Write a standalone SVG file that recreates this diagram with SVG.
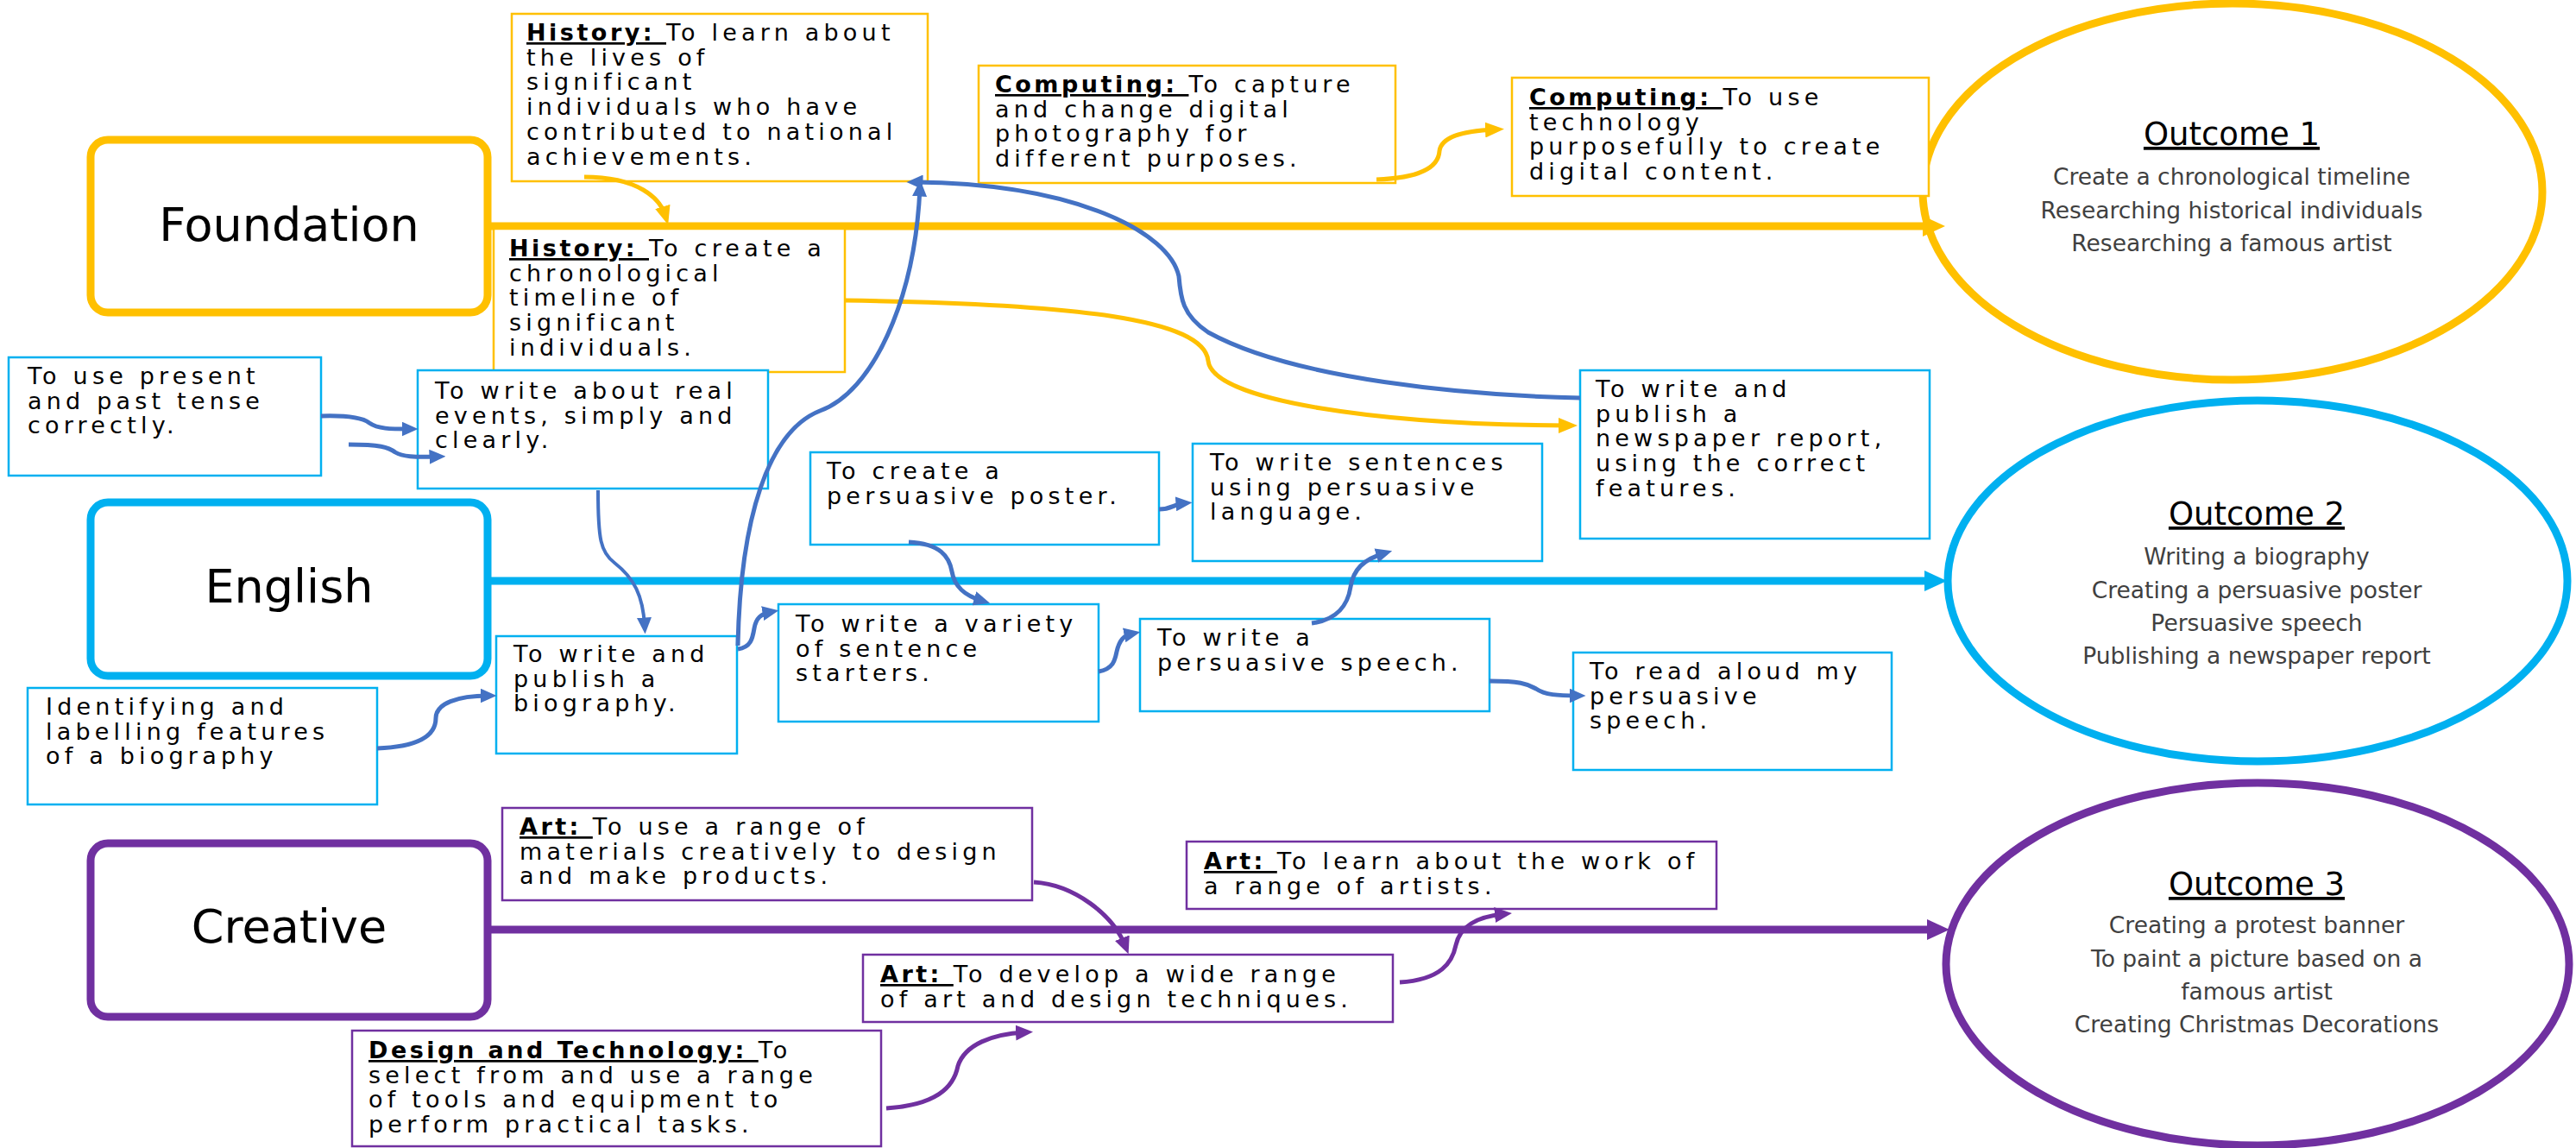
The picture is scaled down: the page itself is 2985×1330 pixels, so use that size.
<svg xmlns="http://www.w3.org/2000/svg" width="2985" height="1330" viewBox="0 0 2985 1330">
<style>
.box{fill:#fff;stroke-width:2.5}
.y{stroke:#FFC000}.b{stroke:#00B0F0}.p{stroke:#7030A0}
.t{font-family:"DejaVu Sans",sans-serif;font-size:27px;letter-spacing:5.2px;fill:#000}
.lb{font-weight:bold;text-decoration:underline;letter-spacing:3.5px}
.main{fill:#fff;stroke-width:9}
.big{font-family:"DejaVu Sans",sans-serif;font-size:54px;text-anchor:middle;fill:#000}
.oc{fill:#fff;stroke-width:9}
.ot{font-family:"DejaVu Sans",sans-serif;font-size:37px;text-anchor:middle;text-decoration:underline;fill:#000}
.ol{font-family:"DejaVu Sans",sans-serif;font-size:26.5px;text-anchor:middle;fill:#404040}
.cy{fill:none;stroke:#FFC000;stroke-width:5}
.cb{fill:none;stroke:#4472C4;stroke-width:5}
.cp{fill:none;stroke:#7030A0;stroke-width:5}
.ly{fill:none;stroke:#FFC000;stroke-width:9}
.lbl{fill:none;stroke:#00B0F0;stroke-width:9}
.lp{fill:none;stroke:#7030A0;stroke-width:9}
</style>
<defs>
<marker id="mY" viewBox="0 0 10 10" refX="5" refY="5" markerWidth="22" markerHeight="18" markerUnits="userSpaceOnUse" orient="auto" preserveAspectRatio="none"><path d="M0,0 L10,5 L0,10 z" fill="#FFC000"/></marker>
<marker id="mB" viewBox="0 0 10 10" refX="5" refY="5" markerWidth="19" markerHeight="17" markerUnits="userSpaceOnUse" orient="auto" preserveAspectRatio="none"><path d="M0,0 L10,5 L0,10 z" fill="#4472C4"/></marker>
<marker id="mP" viewBox="0 0 10 10" refX="5" refY="5" markerWidth="20" markerHeight="18" markerUnits="userSpaceOnUse" orient="auto" preserveAspectRatio="none"><path d="M0,0 L10,5 L0,10 z" fill="#7030A0"/></marker>
<marker id="MY" viewBox="0 0 10 10" refX="5" refY="5" markerWidth="26" markerHeight="24" markerUnits="userSpaceOnUse" orient="auto" preserveAspectRatio="none"><path d="M0,0 L10,5 L0,10 z" fill="#FFC000"/></marker>
<marker id="MB" viewBox="0 0 10 10" refX="5" refY="5" markerWidth="26" markerHeight="24" markerUnits="userSpaceOnUse" orient="auto" preserveAspectRatio="none"><path d="M0,0 L10,5 L0,10 z" fill="#00B0F0"/></marker>
<marker id="MP" viewBox="0 0 10 10" refX="5" refY="5" markerWidth="26" markerHeight="24" markerUnits="userSpaceOnUse" orient="auto" preserveAspectRatio="none"><path d="M0,0 L10,5 L0,10 z" fill="#7030A0"/></marker>
</defs>
<rect width="2985" height="1330" fill="#fff"/>

<g id="outcome1"><ellipse class="oc y" cx="2587" cy="222" rx="359" ry="218"/><text class="ot" x="2586" y="168">Outcome 1</text><text class="ol" x="2586" y="214">Create a chronological timeline</text><text class="ol" x="2586" y="253">Researching historical individuals</text><text class="ol" x="2586" y="291">Researching a famous artist</text></g>
<g id="outcome2"><ellipse class="oc b" cx="2616" cy="673" rx="359" ry="209"/><text class="ot" x="2615" y="608">Outcome 2</text><text class="ol" x="2615" y="654">Writing a biography</text><text class="ol" x="2615" y="693">Creating a persuasive poster</text><text class="ol" x="2615" y="731">Persuasive speech</text><text class="ol" x="2615" y="769">Publishing a newspaper report</text></g>
<g id="outcome3"><ellipse class="oc p" cx="2616" cy="1117" rx="361" ry="210"/><text class="ot" x="2615" y="1037">Outcome 3</text><text class="ol" x="2615" y="1081">Creating a protest banner</text><text class="ol" x="2615" y="1120">To paint a picture based on a</text><text class="ol" x="2615" y="1158">famous artist</text><text class="ol" x="2615" y="1196">Creating Christmas Decorations</text></g>

<g id="main-lines">
<path class="ly" d="M565 262 H2241" marker-end="url(#MY)"/>
<path class="lbl" d="M565 673 H2243" marker-end="url(#MB)"/>
<path class="lp" d="M565 1077 H2246" marker-end="url(#MP)"/>
</g>

<g id="foundation"><rect class="main y" x="105" y="162" width="460" height="200" rx="20"/><text class="big" x="335" y="279">Foundation</text></g>
<g id="english"><rect class="main b" x="105" y="582" width="460" height="201" rx="20"/><text class="big" x="335" y="698">English</text></g>
<g id="creative"><rect class="main p" x="105" y="977" width="460" height="201" rx="20"/><text class="big" x="335" y="1092">Creative</text></g>

<g id="history1"><rect class="box y" x="593" y="16" width="482" height="194"/><text class="t"><tspan x="610" y="47"><tspan class="lb">History: </tspan>To learn about</tspan><tspan x="610" dy="28.7">the lives of</tspan><tspan x="610" dy="28.7">significant</tspan><tspan x="610" dy="28.7">individuals who have</tspan><tspan x="610" dy="28.7">contributed to national</tspan><tspan x="610" dy="28.7">achievements.</tspan></text></g>
<g id="history2"><rect class="box y" x="572" y="265" width="407" height="166"/><text class="t"><tspan x="590" y="297"><tspan class="lb">History: </tspan>To create a</tspan><tspan x="590" dy="28.7">chronological</tspan><tspan x="590" dy="28.7">timeline of</tspan><tspan x="590" dy="28.7">significant</tspan><tspan x="590" dy="28.7">individuals.</tspan></text></g>
<g id="computing1"><rect class="box y" x="1134" y="76" width="483" height="136"/><text class="t"><tspan x="1153" y="107"><tspan class="lb">Computing: </tspan>To capture</tspan><tspan x="1153" dy="28.7">and change digital</tspan><tspan x="1153" dy="28.7">photography for</tspan><tspan x="1153" dy="28.7">different purposes.</tspan></text></g>
<g id="computing2"><rect class="box y" x="1752" y="90" width="483" height="137"/><text class="t"><tspan x="1772" y="122"><tspan class="lb">Computing: </tspan>To use</tspan><tspan x="1772" dy="28.7">technology</tspan><tspan x="1772" dy="28.7">purposefully to create</tspan><tspan x="1772" dy="28.7">digital content.</tspan></text></g>

<g id="tense"><rect class="box b" x="10" y="414" width="362" height="137"/><text class="t"><tspan x="32" y="445">To use present</tspan><tspan x="32" dy="28.7">and past tense</tspan><tspan x="32" dy="28.7">correctly.</tspan></text></g>
<g id="real-events"><rect class="box b" x="484" y="429" width="406" height="137"/><text class="t"><tspan x="504" y="462">To write about real</tspan><tspan x="504" dy="28.7">events, simply and</tspan><tspan x="504" dy="28.7">clearly.</tspan></text></g>
<g id="biography"><rect class="box b" x="575" y="737" width="279" height="136"/><text class="t"><tspan x="595" y="767">To write and</tspan><tspan x="595" dy="28.7">publish a</tspan><tspan x="595" dy="28.7">biography.</tspan></text></g>
<g id="identifying"><rect class="box b" x="32" y="797" width="405" height="135"/><text class="t"><tspan x="53" y="828">Identifying and</tspan><tspan x="53" dy="28.7">labelling features</tspan><tspan x="53" dy="28.7">of a biography</tspan></text></g>
<g id="poster"><rect class="box b" x="939" y="524" width="404" height="107"/><text class="t"><tspan x="958" y="555">To create a</tspan><tspan x="958" dy="28.7">persuasive poster.</tspan></text></g>
<g id="variety"><rect class="box b" x="902" y="700" width="371" height="136"/><text class="t"><tspan x="922" y="732">To write a variety</tspan><tspan x="922" dy="28.7">of sentence</tspan><tspan x="922" dy="28.7">starters.</tspan></text></g>
<g id="sentences"><rect class="box b" x="1382" y="514" width="405" height="136"/><text class="t"><tspan x="1402" y="545">To write sentences</tspan><tspan x="1402" dy="28.7">using persuasive</tspan><tspan x="1402" dy="28.7">language.</tspan></text></g>
<g id="newspaper"><rect class="box b" x="1831" y="429" width="405" height="195"/><text class="t"><tspan x="1849" y="460">To write and</tspan><tspan x="1849" dy="28.7">publish a</tspan><tspan x="1849" dy="28.7">newspaper report,</tspan><tspan x="1849" dy="28.7">using the correct</tspan><tspan x="1849" dy="28.7">features.</tspan></text></g>
<g id="speech"><rect class="box b" x="1321" y="717" width="405" height="107"/><text class="t"><tspan x="1341" y="748">To write a</tspan><tspan x="1341" dy="28.7">persuasive speech.</tspan></text></g>
<g id="read-aloud"><rect class="box b" x="1823" y="756" width="369" height="136"/><text class="t"><tspan x="1842" y="787">To read aloud my</tspan><tspan x="1842" dy="28.7">persuasive</tspan><tspan x="1842" dy="28.7">speech.</tspan></text></g>

<g id="art1"><rect class="box p" x="582" y="936" width="614" height="107"/><text class="t"><tspan x="602" y="967"><tspan class="lb">Art: </tspan>To use a range of</tspan><tspan x="602" dy="28.7">materials creatively to design</tspan><tspan x="602" dy="28.7">and make products.</tspan></text></g>
<g id="art3"><rect class="box p" x="1375" y="975" width="614" height="78"/><text class="t"><tspan x="1395" y="1007"><tspan class="lb">Art: </tspan>To learn about the work of</tspan><tspan x="1395" dy="28.7">a range of artists.</tspan></text></g>
<g id="art2"><rect class="box p" x="1000" y="1106" width="614" height="78"/><text class="t"><tspan x="1020" y="1138"><tspan class="lb">Art: </tspan>To develop a wide range</tspan><tspan x="1020" dy="28.7">of art and design techniques.</tspan></text></g>
<g id="dt"><rect class="box p" x="408" y="1194" width="613" height="134"/><text class="t"><tspan x="427" y="1226"><tspan class="lb">Design and Technology: </tspan>To</tspan><tspan x="427" dy="28.7">select from and use a range</tspan><tspan x="427" dy="28.7">of tools and equipment to</tspan><tspan x="427" dy="28.7">perform practical tasks.</tspan></text></g>

<g id="connectors">
<path class="cy" d="M677 205 C740 205 765 230 771 250" marker-end="url(#mY)"/>
<path class="cy" d="M979 348 C1250 352 1395 370 1400 418 C1405 465 1600 492 1817 493" marker-end="url(#mY)"/>
<path class="cy" d="M1595 208 C1650 206 1667 192 1668 175 C1670 160 1690 152 1732 150" marker-end="url(#mY)"/>
<path class="cb" d="M372 482 C405 481 420 484 428 490 C438 497 452 497 475 497" marker-end="url(#mB)"/>
<path class="cb" d="M404 515 C440 515 450 518 458 524 C466 529 480 530 507 529" marker-end="url(#mB)"/>
<path class="cb" style="stroke-width:4" d="M693 568 C693 625 696 640 712 652 C735 670 745 690 747 725" marker-end="url(#mB)"/>
<path class="cb" d="M437 867 C490 865 505 850 505 832 C505 815 530 806 566 806" marker-end="url(#mB)"/>
<path class="cb" d="M855 748 C858 600 890 500 950 476 C1010 455 1060 350 1066 218" marker-end="url(#mB)"/>
<path class="cb" d="M1831 461 C1700 458 1500 440 1400 385 C1370 365 1368 345 1366 320 C1355 270 1250 213 1060 211" marker-end="url(#mB)"/>
<path class="cb" d="M1053 628 C1090 630 1100 645 1103 662 C1106 680 1118 690 1138 696" marker-end="url(#mB)"/>
<path class="cb" d="M1343 590 C1358 590 1360 584 1372 583" marker-end="url(#mB)"/>
<path class="cb" d="M1273 778 C1290 775 1292 765 1294 755 C1297 742 1302 736 1312 734" marker-end="url(#mB)"/>
<path class="cb" d="M855 752 C870 750 872 740 874 728 C876 716 882 711 893 709" marker-end="url(#mB)"/>
<path class="cb" d="M1520 722 C1550 718 1562 700 1565 680 C1568 660 1580 648 1604 641" marker-end="url(#mB)"/>
<path class="cb" d="M1726 789 C1760 789 1770 792 1780 798 C1790 805 1805 806 1828 806" marker-end="url(#mB)"/>
<path class="cp" d="M1198 1022 C1245 1025 1290 1060 1304 1096" marker-end="url(#mP)"/>
<path class="cp" d="M1622 1138 C1670 1135 1683 1115 1687 1095 C1692 1072 1712 1062 1742 1059" marker-end="url(#mP)"/>
<path class="cp" d="M1027 1284 C1085 1280 1105 1260 1110 1235 C1118 1210 1150 1198 1187 1196" marker-end="url(#mP)"/>
</g>
</svg>
